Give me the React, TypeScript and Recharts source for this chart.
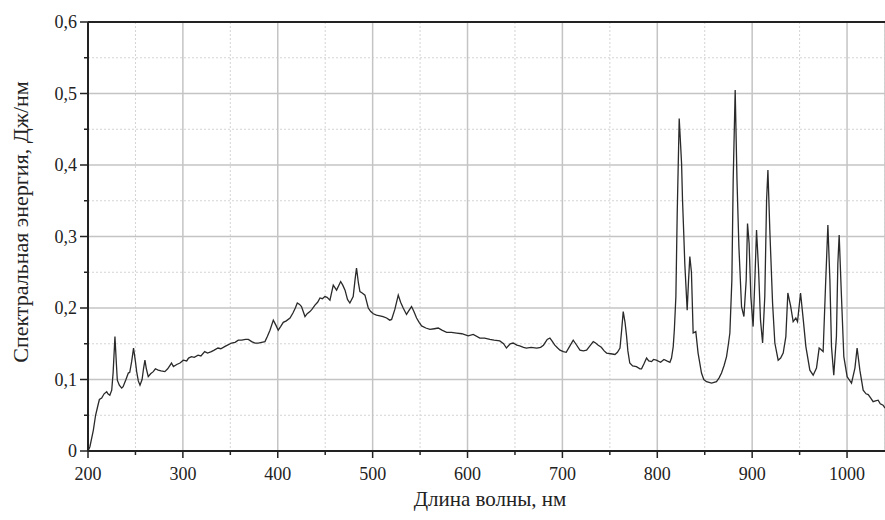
import React from 'react';
import { LineChart, Line, XAxis, YAxis, CartesianGrid, ReferenceLine } from 'recharts';

// wavelength, nm
const wavelength = [
  200, 202, 205.6, 208, 210.5, 212, 214.4, 217, 219.7, 221, 223, 225, 226.5, 228.4, 230, 230.9, 233, 235.5, 237, 240,
  242.5, 244, 246, 248, 250, 251.3, 253, 254.8, 257, 258.5, 260, 261.5, 263.5, 266, 268.8, 271, 274, 277, 281, 284,
  288, 290, 293.5, 297, 300.4, 304, 306, 309, 312, 316, 319, 323, 326, 330, 333, 337, 340, 344, 347, 351.4,
  355, 358.4, 362, 366, 369, 372.5, 376, 379.5, 383, 386.5, 389, 391.8, 395.3, 398, 400.5, 403, 405.8, 409, 412.9, 416,
  418.5, 420.6, 423, 425, 428.7, 431, 433.9, 436, 439.2, 442, 444.5, 447, 449.7, 452, 455, 458.5, 462, 466.3, 468.5, 470.9,
  473.5, 476, 479.5, 481.5, 483, 485, 486.6, 489, 491.9, 495.4, 498, 500.7, 504, 507.7, 511, 514.7, 518, 520, 523.4, 527,
  529.5, 532.2, 535.7, 538, 541, 543.5, 546.3, 549, 551.6, 556, 560.4, 565, 569.1, 573, 578, 583, 588.5, 594, 600.7, 606,
  613, 618, 623.6, 628, 634, 638, 641, 645, 648, 652, 655, 659, 662, 667, 673, 677, 680, 684, 686.8, 689,
  692, 695, 697.4, 701, 704, 707, 711.4, 714, 718.5, 722, 725.5, 729, 732.5, 735, 737.8, 741, 744, 746.6, 751, 755.4,
  758, 760.7, 762.5, 764.1, 766, 767.6, 769, 771, 774, 778, 781.7, 783.4, 786, 788.7, 791, 794, 796, 799, 803.5, 807,
  810, 813.3, 815, 816.8, 818, 819.6, 821, 823.1, 824.5, 825.6, 826.6, 828, 829, 831.5, 833, 834.3, 836, 837.8, 840.6, 843,
  846.6, 849, 851.9, 857.2, 862.4, 865, 867.7, 870.5, 873, 875, 876.5, 878.6, 880, 882.1, 884, 886, 888.8, 891.3, 893.7, 895.1,
  896.8, 898.6, 901, 903, 904.6, 906.7, 908.8, 911, 913.3, 915.2, 916.6, 918.6, 921.5, 923.9, 927.4, 930, 932.7, 935.5, 937.6, 940.5,
  943.2, 946, 947.8, 951, 953.9, 956.6, 960.8, 964.3, 967.8, 970.6, 972.5, 974.8, 977.3, 979.8, 981.9, 983.6, 986, 988.8, 990.3, 991.7,
  994, 996.6, 1000.1, 1002, 1004.7, 1008.3, 1010.6, 1013.5, 1017, 1020, 1022.3, 1025, 1027.5, 1030, 1032.8, 1035, 1038, 1040,
];

// spectral energy, J/nm
const energy = [
  0, 0.006, 0.029, 0.05, 0.064, 0.072, 0.074, 0.08, 0.083, 0.08, 0.078, 0.085, 0.11, 0.16, 0.12, 0.099, 0.092, 0.088, 0.09, 0.1,
  0.109, 0.11, 0.125, 0.144, 0.125, 0.111, 0.098, 0.092, 0.1, 0.115, 0.127, 0.115, 0.104, 0.108, 0.111, 0.115, 0.113, 0.112, 0.111, 0.115,
  0.123, 0.118, 0.121, 0.123, 0.127, 0.126, 0.13, 0.132, 0.131, 0.134, 0.133, 0.139, 0.137, 0.139, 0.141, 0.144, 0.143, 0.146, 0.148, 0.151,
  0.152, 0.155, 0.155, 0.156, 0.156, 0.153, 0.151, 0.151, 0.152, 0.153, 0.16, 0.169, 0.183, 0.176, 0.169, 0.174, 0.18, 0.182, 0.186, 0.193,
  0.2, 0.207, 0.205, 0.202, 0.188, 0.192, 0.195, 0.198, 0.204, 0.208, 0.214, 0.213, 0.216, 0.215, 0.211, 0.232, 0.225, 0.237, 0.232, 0.225,
  0.212, 0.207, 0.216, 0.24, 0.256, 0.235, 0.223, 0.221, 0.218, 0.2, 0.195, 0.192, 0.19, 0.189, 0.188, 0.186, 0.183, 0.184, 0.198, 0.218,
  0.208, 0.2, 0.191, 0.196, 0.202, 0.195, 0.186, 0.18, 0.175, 0.172, 0.17, 0.171, 0.172, 0.169, 0.166, 0.166, 0.165, 0.164, 0.161, 0.163,
  0.158, 0.158, 0.156, 0.155, 0.154, 0.15, 0.144, 0.15, 0.151, 0.148, 0.147, 0.145, 0.144, 0.145, 0.144, 0.145, 0.148, 0.156, 0.158, 0.154,
  0.148, 0.144, 0.141, 0.139, 0.138, 0.145, 0.155, 0.15, 0.141, 0.14, 0.141, 0.147, 0.153, 0.151, 0.148, 0.145, 0.14, 0.137, 0.136, 0.135,
  0.138, 0.144, 0.17, 0.195, 0.18, 0.161, 0.14, 0.123, 0.119, 0.118, 0.115, 0.115, 0.122, 0.13, 0.126, 0.125, 0.128, 0.127, 0.124, 0.128,
  0.126, 0.124, 0.13, 0.146, 0.17, 0.216, 0.332, 0.465, 0.43, 0.402, 0.351, 0.3, 0.262, 0.197, 0.24, 0.272, 0.25, 0.165, 0.167, 0.137,
  0.109, 0.1, 0.097, 0.095, 0.097, 0.102, 0.109, 0.12, 0.132, 0.15, 0.165, 0.239, 0.379, 0.505, 0.379, 0.286, 0.202, 0.188, 0.239, 0.318,
  0.29, 0.216, 0.174, 0.245, 0.309, 0.255, 0.183, 0.151, 0.216, 0.351, 0.393, 0.309, 0.207, 0.151, 0.127, 0.13, 0.137, 0.16, 0.221, 0.203,
  0.181, 0.186, 0.181, 0.221, 0.183, 0.146, 0.113, 0.106, 0.116, 0.144, 0.142, 0.139, 0.23, 0.316, 0.24, 0.146, 0.106, 0.16, 0.262, 0.302,
  0.22, 0.132, 0.104, 0.1, 0.095, 0.116, 0.144, 0.113, 0.085, 0.08, 0.079, 0.074, 0.069, 0.07, 0.071, 0.066, 0.064, 0.06,
];

const xTicks = [200, 250, 300, 350, 400, 450, 500, 550, 600, 650, 700, 750, 800, 850, 900, 950, 1000];
const yTicks = [0, 0.05, 0.1, 0.15, 0.2, 0.25, 0.3, 0.35, 0.4, 0.45, 0.5, 0.55, 0.6];
const xMajor = [300, 400, 500, 600, 700, 800, 900, 1000];
const xMinor = [250, 350, 450, 550, 650, 750, 850, 950];
const yMajor = [0.1, 0.2, 0.3, 0.4, 0.5];
const yMinor = [0.05, 0.15, 0.25, 0.35, 0.45, 0.55];

const xTitle = 'Длина волны, нм';
const yTitle = 'Спектральная энергия, Дж/нм';

const data = wavelength.map((w, i) => ({ w, e: energy[i] }));

// no serif face in the sandbox, so this falls back to a sans
const FONT = "'Liberation Serif', 'Times New Roman', 'Liberation Sans', sans-serif";
const INK = '#222';

const XTick = ({ x, y, payload }: any) => {
  const major = payload.value % 100 === 0;
  return (
    <g>
      <line x1={x} x2={x} y1={y} y2={y + (major ? 7 : 4)} stroke={INK} strokeWidth={1.5} />
      {major && (
        <text x={x} y={y + 29} textAnchor="middle" fill={INK} style={{ fontSize: 18, fontFamily: FONT }}>
          {payload.value}
        </text>
      )}
    </g>
  );
};

const YTick = ({ x, y, payload }: any) => {
  const major = Math.round(payload.value * 100) % 10 === 0;
  const label = payload.value === 0 ? '0' : payload.value.toFixed(1).replace('.', ',');
  return (
    <g>
      <line x1={x - (major ? 8 : 4)} x2={x} y1={y} y2={y} stroke={INK} strokeWidth={1.5} />
      {major && (
        <text x={x - 11} y={y} dy="0.35em" textAnchor="end" fill={INK} style={{ fontSize: 18, fontFamily: FONT }}>
          {label}
        </text>
      )}
    </g>
  );
};

export default function App() {
  return (
    <div style={{ position: 'absolute', left: 0, top: 0, width: 885, height: 520, background: '#fff', fontFamily: FONT }}>
      <LineChart width={885} height={520} data={data} margin={{ top: 22, right: 0, bottom: 0, left: 0 }}>
        {/* hidden axes only for the two grid layers */}
        <XAxis xAxisId="gmaj" type="number" dataKey="w" domain={[200, 1040]} ticks={xMajor} hide />
        <YAxis yAxisId="gmaj" type="number" dataKey="e" domain={[0, 0.6]} ticks={yMajor} hide />
        <XAxis xAxisId="gmin" type="number" dataKey="w" domain={[200, 1040]} ticks={xMinor} hide />
        <YAxis yAxisId="gmin" type="number" dataKey="e" domain={[0, 0.6]} ticks={yMinor} hide />
        <CartesianGrid xAxisId="gmin" yAxisId="gmin" stroke="#d4d4d4" strokeDasharray="2 2" strokeWidth={1} />
        <CartesianGrid xAxisId="gmaj" yAxisId="gmaj" stroke="#c4c4c4" strokeWidth={1.5} />

        <XAxis
          type="number"
          dataKey="w"
          domain={[200, 1040]}
          ticks={xTicks}
          interval={0}
          height={69}
          tickSize={0}
          tickMargin={0}
          tickLine={false}
          axisLine={{ stroke: INK, strokeWidth: 2 }}
          tick={<XTick />}
        />
        <YAxis
          type="number"
          dataKey="e"
          domain={[0, 0.6]}
          ticks={yTicks}
          interval={0}
          width={88}
          tickSize={0}
          tickMargin={0}
          tickLine={false}
          axisLine={{ stroke: INK, strokeWidth: 2 }}
          tick={<YTick />}
        />
        <ReferenceLine y={0.6} stroke={INK} strokeWidth={2} />
        <Line
          type="linear"
          dataKey="e"
          stroke="#2a2a2a"
          strokeWidth={1.3}
          dot={false}
          isAnimationActive={false}
        />
      </LineChart>
      <div
        style={{
          position: 'absolute', left: 490, top: 499, transform: 'translate(-50%, -50%)',
          fontSize: 21, color: INK, whiteSpace: 'nowrap', fontFamily: FONT,
        }}
      >
        {xTitle}
      </div>
      <div
        style={{
          position: 'absolute', left: 21, top: 222, transform: 'translate(-50%, -50%) rotate(-90deg)',
          fontSize: 22, color: INK, whiteSpace: 'nowrap', fontFamily: FONT,
        }}
      >
        {yTitle}
      </div>
    </div>
  );
}
